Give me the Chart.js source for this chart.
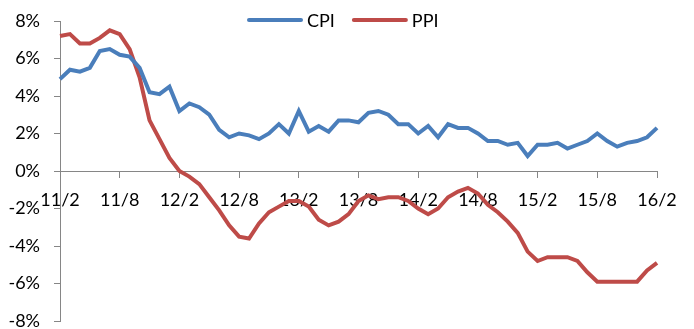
<!DOCTYPE html>
<html>
<head>
<meta charset="utf-8">
<script src="https://cdn.jsdelivr.net/npm/chart.js@4/dist/chart.umd.min.js"></script>
<style>
  html, body { margin: 0; padding: 0; background: #fff; }
  #wrap { width: 694px; height: 329px; }
</style>
</head>
<body>
<div id="wrap"><canvas id="chart"></canvas></div>
<script>
const months = [
  "11/2","11/3","11/4","11/5","11/6","11/7","11/8","11/9","11/10","11/11","11/12",
  "12/1","12/2","12/3","12/4","12/5","12/6","12/7","12/8","12/9","12/10","12/11","12/12",
  "13/1","13/2","13/3","13/4","13/5","13/6","13/7","13/8","13/9","13/10","13/11","13/12",
  "14/1","14/2","14/3","14/4","14/5","14/6","14/7","14/8","14/9","14/10","14/11","14/12",
  "15/1","15/2","15/3","15/4","15/5","15/6","15/7","15/8","15/9","15/10","15/11","15/12",
  "16/1","16/2"
];
const cpi = [
  4.9, 5.4, 5.3, 5.5, 6.4, 6.5, 6.2, 6.1, 5.5, 4.2, 4.1,
  4.5, 3.2, 3.6, 3.4, 3.0, 2.2, 1.8, 2.0, 1.9, 1.7, 2.0, 2.5,
  2.0, 3.2, 2.1, 2.4, 2.1, 2.7, 2.7, 2.6, 3.1, 3.2, 3.0, 2.5,
  2.5, 2.0, 2.4, 1.8, 2.5, 2.3, 2.3, 2.0, 1.6, 1.6, 1.4, 1.5,
  0.8, 1.4, 1.4, 1.5, 1.2, 1.4, 1.6, 2.0, 1.6, 1.3, 1.5, 1.6,
  1.8, 2.3
];
const ppi = [
  7.2, 7.3, 6.8, 6.8, 7.1, 7.5, 7.3, 6.5, 5.0, 2.7, 1.7,
  0.7, 0.0, -0.3, -0.7, -1.4, -2.1, -2.9, -3.5, -3.6, -2.8, -2.2, -1.9,
  -1.6, -1.6, -1.9, -2.6, -2.9, -2.7, -2.3, -1.6, -1.3, -1.5, -1.4, -1.4,
  -1.6, -2.0, -2.3, -2.0, -1.4, -1.1, -0.9, -1.2, -1.8, -2.2, -2.7, -3.3,
  -4.3, -4.8, -4.6, -4.6, -4.6, -4.8, -5.4, -5.9, -5.9, -5.9, -5.9, -5.9,
  -5.3, -4.9
];
const labelEvery = 6;

const axisColor = "#868686";
const fontFamily = "Lato, 'Open Sans', sans-serif";

// legend drawn by hand so it can sit above the plot without taking space
const topLegend = {
  id: "topLegend",
  afterDraw(chart) {
    const ctx = chart.ctx;
    let x = 249;
    const y = 20;
    ctx.save();
    ctx.font = "18px " + fontFamily;
    ctx.textBaseline = "middle";
    ctx.fillStyle = "#000";
    chart.data.datasets.forEach(ds => {
      ctx.strokeStyle = ds.borderColor;
      ctx.lineWidth = 4;
      ctx.lineCap = "round";
      ctx.beginPath();
      ctx.moveTo(x, y);
      ctx.lineTo(x + 52, y);
      ctx.stroke();
      ctx.fillText(ds.label, x + 58, y + 1);
      x += 58 + ctx.measureText(ds.label).width + 19;
    });
    ctx.restore();
  }
};

new Chart(document.getElementById("chart"), {
  type: "line",
  data: {
    labels: months,
    datasets: [
      {
        label: "CPI",
        data: cpi,
        borderColor: "#4a7ebb",
        backgroundColor: "#4a7ebb",
        borderWidth: 4,
        pointRadius: 0,
        tension: 0
      },
      {
        label: "PPI",
        data: ppi,
        borderColor: "#be4b48",
        backgroundColor: "#be4b48",
        borderWidth: 4,
        pointRadius: 0,
        tension: 0
      }
    ]
  },
  options: {
    responsive: true,
    maintainAspectRatio: false,
    animation: false,
    layout: { padding: { top: 21, right: 37, bottom: 8, left: 0 } },
    plugins: {
      legend: { display: false },
      tooltip: { enabled: false }
    },
    scales: {
      x: {
        type: "category",
        position: { y: 0 },
        offset: false,
        grid: {
          drawOnChartArea: false,
          tickLength: 6,
          tickColor: c => (c.index % labelEvery === 0 ? axisColor : "rgba(0,0,0,0)")
        },
        border: { display: true, color: axisColor, width: 1 },
        ticks: {
          autoSkip: false,
          maxRotation: 0,
          padding: 14,
          color: "#000",
          font: { family: fontFamily, size: 18, lineHeight: 1 },
          callback: function (value, index) {
            return index % labelEvery === 0 ? this.getLabelForValue(value) : "";
          }
        },
        afterFit: s => { s.paddingTop = 0; s.paddingBottom = 0; }
      },
      y: {
        min: -8,
        max: 8,
        grid: { drawOnChartArea: false, tickLength: 6, color: axisColor },
        border: { display: true, color: axisColor, width: 1 },
        ticks: {
          stepSize: 2,
          padding: 14,
          color: "#000",
          font: { family: fontFamily, size: 18 },
          callback: v => v + "%"
        },
        afterFit: s => { s.width = 60; s.paddingTop = 0; s.paddingBottom = 0; }
      }
    }
  },
  plugins: [topLegend]
});
</script>
</body>
</html>
